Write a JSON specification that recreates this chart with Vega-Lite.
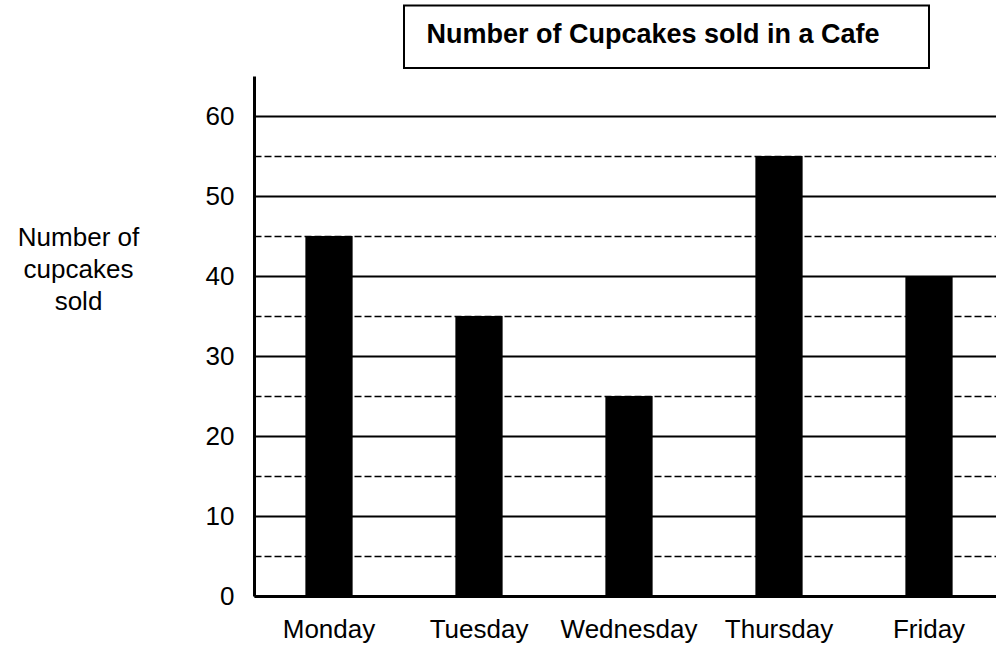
{
  "$schema": "https://vega.github.io/schema/vega-lite/v6.json",
  "width": 742,
  "height": 520,
  "autosize": {"type": "none"},
  "padding": {"left": 254, "top": 76, "right": 0, "bottom": 57},
  "background": "white",
  "config": {"view": {"stroke": null}, "font": "Liberation Sans"},
  "layer": [
    {
      "data": {"values": [
        {"day": "Monday", "cupcakes": 45},
        {"day": "Tuesday", "cupcakes": 35},
        {"day": "Wednesday", "cupcakes": 25},
        {"day": "Thursday", "cupcakes": 55},
        {"day": "Friday", "cupcakes": 40}
      ]},
      "mark": {"type": "bar", "color": "black", "width": {"band": 0.315}},
      "encoding": {
        "x": {
          "field": "day", "type": "nominal",
          "scale": {"domain": ["Monday", "Tuesday", "Wednesday", "Thursday", "Friday"], "range": [0, 750], "paddingInner": 0, "paddingOuter": 0},
          "axis": {"title": null, "labelAngle": 0, "labelFontSize": 26, "labelColor": "black", "labelPadding": 20, "ticks": false, "tickSize": 0, "domainColor": "black", "domainWidth": 3, "grid": false, "labelFont": "Liberation Sans"}
        },
        "y": {
          "field": "cupcakes", "type": "quantitative",
          "scale": {"domain": [0, 65], "nice": false},
          "axis": {
            "title": ["Number of", "cupcakes", "sold"],
            "values": [0, 5, 10, 15, 20, 25, 30, 35, 40, 45, 50, 55, 60],
            "labelExpr": "datum.value % 10 === 0 ? datum.label : ''",
            "grid": true, "gridColor": "black", "gridOpacity": 1,
            "gridWidth": {"condition": {"test": "datum.value % 10 === 5", "value": 1.5}, "value": 2},
            "gridDash": {"condition": {"test": "datum.value % 10 === 5", "value": [7, 3]}, "value": []},
            "ticks": false, "tickSize": 0,
            "domainColor": "black", "domainWidth": 3,
            "labelFontSize": 26, "labelPadding": 20, "labelColor": "black", "labelFont": "Liberation Sans",
            "titleAngle": 0, "titleAlign": "center", "titleBaseline": "alphabetic",
            "titleX": -176, "titleY": 169, "titleFontSize": 26, "titleFontWeight": "normal",
            "titleLineHeight": 32, "titleColor": "black", "titleFont": "Liberation Sans"
          }
        }
      }
    },
    {
      "data": {"values": [{"title": "Number of Cupcakes sold in a Cafe"}]},
      "mark": {"type": "rect", "fill": "white", "stroke": "black", "strokeWidth": 2},
      "encoding": {
        "x": {"datum": "Tuesday", "bandPosition": 0},
        "x2": {"datum": "Friday"},
        "y": {"datum": 66},
        "y2": {"datum": 73.8}
      }
    },
    {
      "data": {"values": [{"title": "Number of Cupcakes sold in a Cafe"}]},
      "mark": {"type": "text", "align": "left", "baseline": "middle", "fontSize": 27, "fontWeight": "bold", "font": "Liberation Sans", "color": "black"},
      "encoding": {
        "x": {"datum": "Tuesday", "bandPosition": 0.15},
        "y": {"datum": 70.1},
        "text": {"field": "title"}
      }
    }
  ]
}
